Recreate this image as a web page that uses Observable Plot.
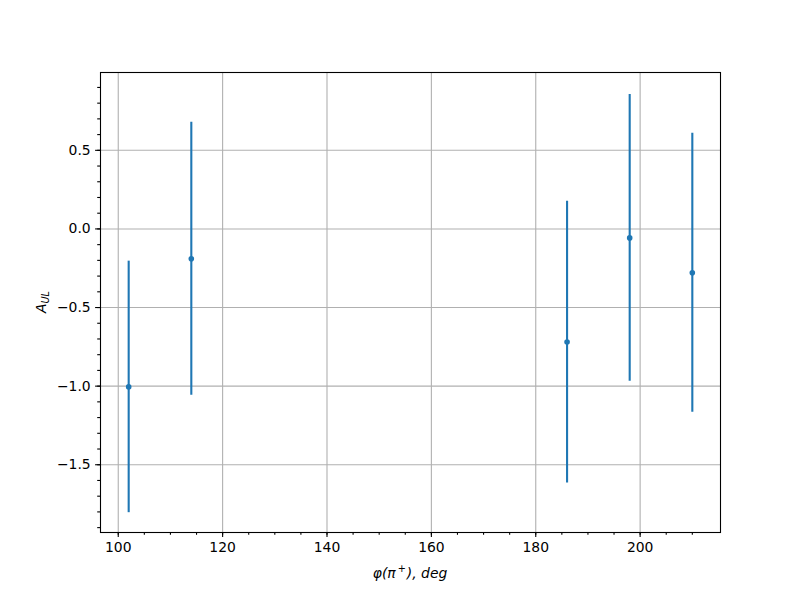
<!DOCTYPE html>
<html>
<head>
<meta charset="utf-8">
<script src="https://cdn.jsdelivr.net/npm/d3@7"></script>
<script src="https://cdn.jsdelivr.net/npm/@observablehq/plot@0.6"></script>
<style>
  body { margin: 0; background: #fff; }
</style>
</head>
<body>
<div id="chart"></div>
<script>
const phi = [102, 114, 186, 198, 210];
const aul = [-1.005, -0.19, -0.72, -0.057, -0.279];
const err = [0.80, 0.868, 0.896, 0.912, 0.887];
const xTicks = [100, 120, 140, 160, 180, 200];
const yTicks = [-1.5, -1.0, -0.5, 0.0, 0.5];
const xMinor = d3.range(100, 215, 5);
const yMinor = d3.range(-19, 10, 1).map(d => d / 10);

const data = phi.map((p, i) => ({x: p, y: aul[i], lo: aul[i] - err[i], hi: aul[i] + err[i]}));

const blue = "#1f77b4";
const svg = Plot.plot({
  width: 800,
  height: 600,
  marginLeft: 100,
  marginRight: 80,
  marginTop: 72,
  marginBottom: 68,
  style: {fontFamily: "DejaVu Sans", fontSize: "13.9px", background: "#fff", color: "#000"},
  x: {domain: [96.6, 215.4]},
  y: {domain: [-1.931, 0.995]},
  marks: [
    Plot.gridX(xTicks, {stroke: "#b0b0b0", strokeOpacity: 1, strokeWidth: 1.1}),
    Plot.gridY(yTicks, {stroke: "#b0b0b0", strokeOpacity: 1, strokeWidth: 1.1}),
    Plot.axisX(xMinor, {tickSize: 2.8, text: null, label: null, strokeWidth: 1.1}),
    Plot.axisY(yMinor, {tickSize: 2.8, text: null, label: null, strokeWidth: 1.1}),
    Plot.axisX(xTicks, {tickSize: 4.9, tickPadding: 4.9, label: null, strokeWidth: 1.1, tickFormat: d3.format("d"), fill: "#000"}),
    Plot.axisY(yTicks, {tickSize: 4.9, tickPadding: 4.9, label: null, strokeWidth: 1.1, tickFormat: d3.format(".1f"), fill: "#000"}),
    Plot.ruleX(data, {x: "x", y1: "lo", y2: "hi", stroke: blue, strokeWidth: 2.1}),
    Plot.dot(data, {x: "x", y: "y", r: 2.8, fill: blue}),
    Plot.frame({stroke: "#000", strokeWidth: 1.1})
  ]
});
document.getElementById("chart").appendChild(svg);

const s = d3.select(svg);
// x label
const xl = s.append("text")
  .attr("x", 410).attr("y", 578)
  .attr("text-anchor", "middle")
  .attr("font-family", "DejaVu Sans").attr("font-size", "13.9px")
  .attr("font-style", "italic").attr("fill", "#000");
xl.append("tspan").text("φ(π");
xl.append("tspan").attr("dx", 2).attr("dy", -6).attr("font-size", "9.7px").attr("font-style", "normal").text("+");
xl.append("tspan").attr("dx", 1).attr("dy", 6).text("), deg");

// y label
const yl = s.append("text")
  .attr("transform", "translate(46,302) rotate(-90)")
  .attr("text-anchor", "middle")
  .attr("font-family", "DejaVu Sans").attr("font-size", "13.9px")
  .attr("font-style", "italic").attr("fill", "#000");
yl.append("tspan").text("A");
yl.append("tspan").attr("dy", 3).attr("font-size", "9.7px").text("UL");
</script>
</body>
</html>
